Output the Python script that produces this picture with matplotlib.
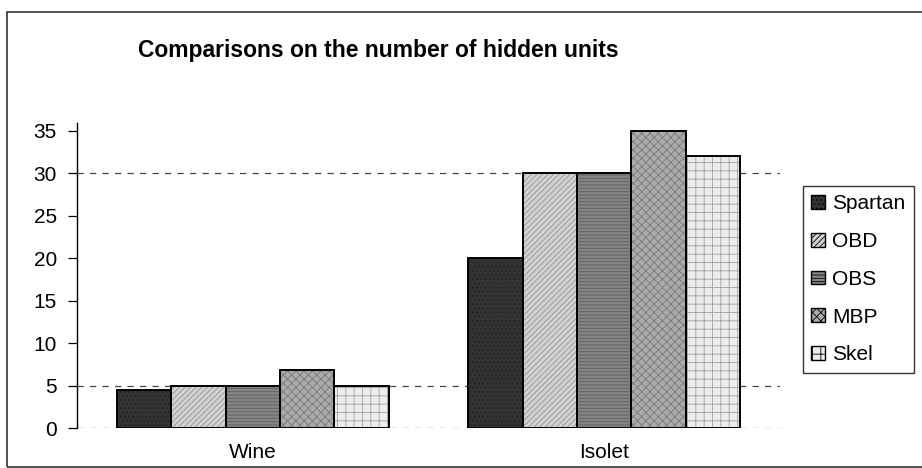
import matplotlib
matplotlib.use("Agg")
import matplotlib.pyplot as plt
from matplotlib.patches import Rectangle
import numpy as np

plt.rcParams['font.family'] = ['Liberation Sans', 'DejaVu Sans']

categories = ["Wine", "Isolet"]
methods = ["Spartan", "OBD", "OBS", "MBP", "Skel"]
values = {
    "Spartan": [4.5, 20],
    "OBD": [5, 30],
    "OBS": [5, 30],
    "MBP": [6.8, 35],
    "Skel": [5, 32],
}
yticks = [0, 5, 10, 15, 20, 25, 30, 35]
grid_levels = [0, 5, 30]

faces = {"Spartan": "#333333", "OBD": "#d2d2d2", "OBS": "#858585",
         "MBP": "#ababab", "Skel": "#ececec"}
hatches = {"Spartan": "....", "OBD": "//////", "OBS": "-----",
           "MBP": "xxxx", "Skel": "++"}
hatch_cols = {"Spartan": "#222222", "OBD": "#939393", "OBS": "#5e5e5e",
              "MBP": "#7a7a7a", "Skel": "#a0a0a0"}

W, H = 922, 468
fig = plt.figure(figsize=(W / 100, H / 100), dpi=100)
ax = fig.add_axes([77 / W, 1 - 428 / H, 703 / W, (428 - 122.7) / H])

x = np.arange(len(categories))
bw = 0.155
handles = []
for i, m in enumerate(methods):
    pos = x + (i - 2) * bw
    plt.rcParams['hatch.color'] = hatch_cols[m]
    plt.rcParams['hatch.linewidth'] = 0.6
    ax.bar(pos, values[m], width=bw, color=faces[m], hatch=hatches[m],
           edgecolor=hatch_cols[m], linewidth=0, zorder=3)
    ax.bar(pos, values[m], width=bw, fill=False, edgecolor="black",
           linewidth=1.4, zorder=4)
    handles.append(Rectangle((0, 0), 1, 1, facecolor=faces[m], hatch=hatches[m],
                             edgecolor="black", linewidth=1.0))

for g in grid_levels:
    ax.axhline(g, color="#444444", linewidth=0.9, linestyle=(0, (5, 5)), zorder=1)

ax.set_xlim(-0.5, 1.5)
ax.set_ylim(0, 35.94)
ax.set_yticks(yticks)
ax.set_xticks(x)
ax.set_xticklabels(categories, fontsize=15)
ax.tick_params(axis='x', length=0, pad=11)
ax.tick_params(axis='y', labelsize=15, length=6.5, width=0.9, pad=8, direction='out')
for s in ["top", "right", "bottom"]:
    ax.spines[s].set_visible(False)
ax.spines["left"].set_linewidth(1.0)
ax.patch.set_alpha(0)

fig.text(378 / W, 1 - 50 / H, "Comparisons on the number of hidden units",
         ha="center", va="center", fontsize=16.5, fontweight="bold")

leg = fig.legend(handles, methods, loc="upper left",
                 bbox_to_anchor=(803 / W, 1 - 186 / H), fontsize=15,
                 handlelength=0.65, handleheight=0.65, handletextpad=0.35,
                 labelspacing=0.9, borderpad=0.4, borderaxespad=0,
                 fancybox=False, frameon=True)
leg.get_frame().set_edgecolor("black")
leg.get_frame().set_linewidth(1.0)

# outer chart border
fig.add_artist(Rectangle((7 / W, 1 - 467 / H), 1.0, (467 - 12) / H,
                         transform=fig.transFigure, fill=False,
                         edgecolor="#333333", linewidth=1.2))

fig.savefig("out.png", dpi=100)
